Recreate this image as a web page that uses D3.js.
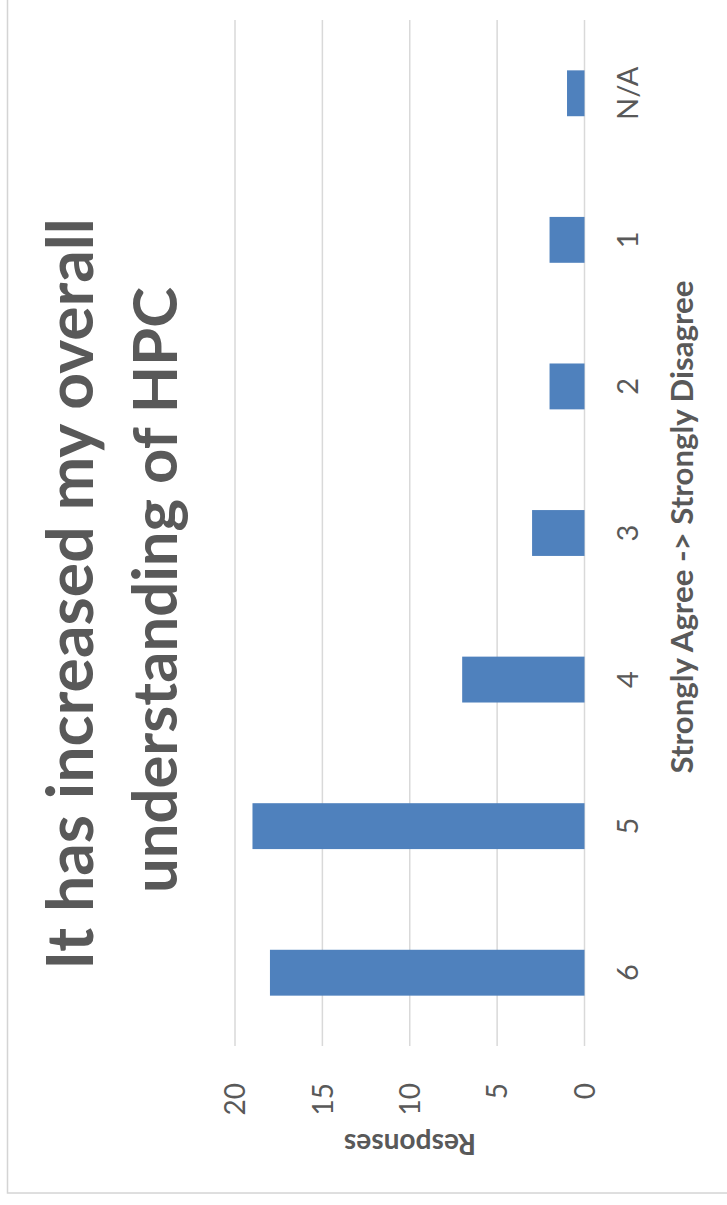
<!DOCTYPE html>
<html>
<head>
<meta charset="utf-8">
<script src="https://cdn.jsdelivr.net/npm/d3@7"></script>
<style>
  html, body { margin: 0; padding: 0; background: #fff; }
  svg { display: block; }
  text { font-family: Lato, "Open Sans", sans-serif; fill: #595959; }
</style>
</head>
<body>
<svg id="chart" width="727" height="1205"></svg>
<script>
// ---- data ----
const categories = ["6", "5", "4", "3", "2", "1", "N/A"];
const responses = [18, 19, 7, 3, 2, 2, 1];
const valueTicks = [0, 5, 10, 15, 20];
const titleLines = ["It has increased my overall", "understanding of HPC"];
const xAxisTitle = "Strongly Agree -> Strongly Disagree";
const yAxisTitle = "Responses";

// ---- drawing (chart is rotated -90deg as in the reference) ----
const W = 1205, H = 727;
const svg = d3.select("#chart");
svg.append("rect").attr("width", 727).attr("height", 1205).attr("fill", "#fff");

const g = svg.append("g").attr("transform", `translate(0,${W}) rotate(-90)`);

// frame
g.append("rect")
  .attr("x", 12).attr("y", 7.5).attr("width", 1300).attr("height", 800)
  .attr("fill", "none").attr("stroke", "#d4d4d4").attr("stroke-width", 1.5);

const x = d3.scaleBand().domain(categories).range([159, 1185])
  .paddingInner(0.687).paddingOuter(0.3435);
const y = d3.scaleLinear().domain([0, 20]).range([584.5, 235]);

// gridlines
g.append("g").selectAll("line").data(valueTicks).join("line")
  .attr("x1", 159).attr("x2", 1185)
  .attr("y1", d => y(d)).attr("y2", d => y(d))
  .attr("stroke", "#d9d9d9").attr("stroke-width", 1.5);

// bars
g.append("g").selectAll("rect").data(categories).join("rect")
  .attr("x", d => x(d))
  .attr("width", x.bandwidth())
  .attr("y", (d, i) => y(responses[i]))
  .attr("height", (d, i) => y(0) - y(responses[i]))
  .attr("fill", "#4f81bd");

// value axis (left in original orientation)
const yAxis = d3.axisLeft(y).tickValues(valueTicks).tickSize(0).tickPadding(0);
const ya = g.append("g").attr("transform", "translate(122,0)").call(yAxis);
ya.select(".domain").remove();
ya.selectAll("text").attr("font-size", 28).attr("font-family", "Lato, 'Open Sans', sans-serif")
  .attr("fill", "#595959").attr("dy", "0.35em").attr("x", 0);

// category axis
const xAxis = d3.axisBottom(x).tickSize(0).tickPadding(0);
const xa = g.append("g").attr("transform", "translate(0,638)").call(xAxis);
xa.select(".domain").remove();
xa.selectAll("text").attr("font-size", 29).attr("font-family", "Lato, 'Open Sans', sans-serif")
  .attr("fill", "#595959").attr("dy", 0).attr("y", 0);

function fit(sel, target) {
  const l = sel.node().getComputedTextLength();
  const fs = parseFloat(sel.attr("font-size"));
  sel.attr("font-size", (fs * target / l).toFixed(2));
}

// axis titles
const xt = g.append("text")
  .attr("x", 678).attr("y", 693)
  .attr("text-anchor", "middle").attr("font-weight", "bold").attr("font-size", 28)
  .text(xAxisTitle);
fit(xt, 493);

const yt = g.append("text")
  .attr("transform", "translate(71,410) rotate(-90)")
  .attr("text-anchor", "middle").attr("font-weight", "bold").attr("font-size", 28)
  .text(yAxisTitle);
fit(yt, 132);

// chart title
const titleTargets = [752, 606];
const titleBaselines = [93, 177];
const titleCenters = [611, 615];
titleLines.forEach((t, i) => {
  const tt = g.append("text")
    .attr("x", titleCenters[i]).attr("y", titleBaselines[i])
    .attr("text-anchor", "middle").attr("font-weight", "bold").attr("font-size", 60)
    .text(t);
  fit(tt, titleTargets[i]);
});
</script>
</body>
</html>
